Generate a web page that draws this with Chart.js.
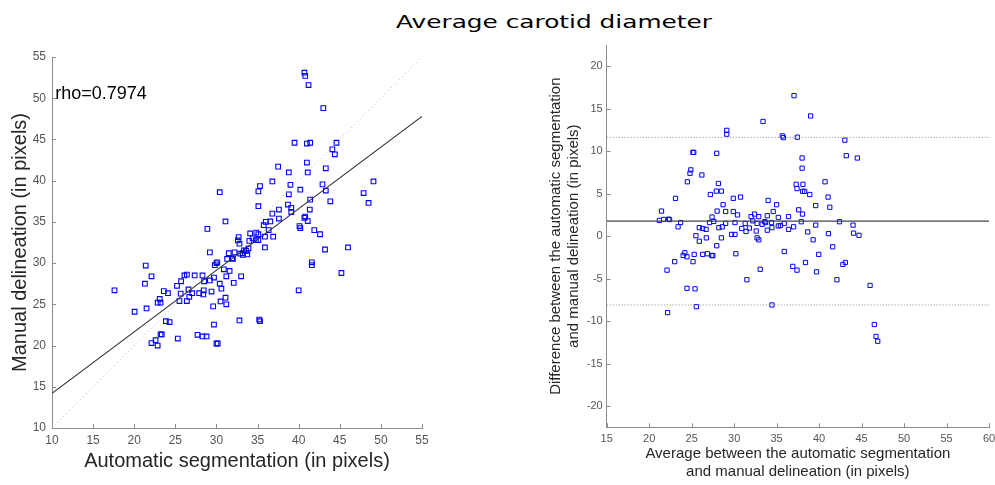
<!DOCTYPE html>
<html>
<head>
<meta charset="utf-8">
<script src="https://cdn.jsdelivr.net/npm/chart.js@4/dist/chart.umd.min.js"></script>
<style>
  html, body { margin: 0; padding: 0; background: #fff; overflow: hidden; }
  body { width: 995px; height: 485px; position: relative; }
  #title {
    position: absolute; left: 554px; top: 10px;
    font-family: "DejaVu Sans", sans-serif; font-size: 18.5px; line-height: 24px;
    color: #000; white-space: nowrap;
    transform: translateX(-50%) scaleX(1.34);
  }
  #scatter { position: absolute; left: 0; top: 0; }
  #bland { position: absolute; left: 520px; top: 0; }
</style>
</head>
<body>
<div id="title">Average carotid diameter</div>
<canvas id="scatter" width="470" height="485"></canvas>
<canvas id="bland" width="490" height="485"></canvas>
<script>
// automatic segmentation (x) vs manual delineation (y), pixels
const autoVsManual = [
  [40.7,53.1],[40.8,52.7],[41.2,51.6],[43.0,48.8],
  [39.5,44.6],[41.0,44.5],[41.4,44.6],[44.6,44.6],[44.1,43.8],[44.4,43.2],
  [41.0,42.2],[43.3,41.5],[37.5,41.7],[38.8,41.0],[41.1,41.0],
  [36.8,39.9],[49.1,39.9],[39.0,39.5],[42.9,39.55],[35.3,39.35],[35.1,38.7],[30.4,38.6],
  [40.2,38.9],[43.3,38.8],[38.8,38.35],[47.9,38.5],[48.5,37.3],[43.85,37.5],[41.4,37.7],
  [38.7,37.1],[39.1,36.7],[35.1,36.9],[41.35,36.5],[37.6,36.5],[39.1,36.2],[36.8,36.0],
  [40.8,35.65],[40.7,35.5],[37.6,35.4],[41.1,35.1],[31.1,35.05],[36.55,35.05],[36.0,35.0],
  [35.75,34.6],[40.1,34.5],[40.2,34.25],[28.9,34.15],[36.35,34.0],[41.9,34.0],[34.85,33.7],
  [34.1,33.6],[42.6,33.5],[35.1,33.5],[32.7,33.15],[32.6,32.75],[32.8,32.35],[35.9,33.2],
  [36.9,33.2],[34.4,33.0],[34.0,32.7],[34.8,32.8],[35.1,32.8],[46.0,31.9],[35.9,31.9],
  [43.2,31.65],[29.2,31.3],[33.9,31.8],[33.6,31.5],[33.2,31.2],[31.5,31.2],[32.2,31.3],
  [33.75,31.05],[33.2,31.0],[33.35,31.55],[32.9,31.15],[32.0,30.5],[31.9,30.6],[31.3,30.5],
  [30.1,30.1],[30.0,30.0],[29.8,29.75],[41.6,30.1],[41.6,29.75],[45.2,28.8],[31.6,29.05],
  [30.9,29.25],[21.4,29.7],
  [22.1,28.4],[21.3,27.5],[26.1,28.5],[26.4,28.6],[27.35,28.5],[28.3,28.5],[29.7,28.25],
  [31.2,28.4],[33.0,28.4],[25.2,27.25],[25.7,27.8],[28.5,27.8],[29.2,27.9],[30.4,27.5],
  [32.1,27.6],[23.6,26.6],[24.1,26.35],[17.6,26.7],[26.6,26.8],[25.65,26.3],[27.05,26.35],
  [27.9,26.35],[28.45,26.7],[28.4,26.2],[29.4,26.55],[30.6,26.9],[26.7,25.9],[20.05,24.1],
  [23.1,25.65],[22.85,25.2],[23.2,25.2],[25.5,25.4],[26.4,25.4],[30.5,25.35],[31.1,25.8],
  [31.2,25.0],[29.6,24.75],[21.5,24.5],[23.85,22.95],[24.3,22.85],[29.7,22.55],[32.8,23.05],
  [35.2,23.15],[35.3,22.95],[40.0,26.7],[22.6,20.65],[22.1,20.3],[22.85,20.0],[23.2,21.35],
  [23.35,21.35],[25.3,20.85],[27.7,21.3],[28.3,21.1],[28.8,21.1],[30.0,20.25],[30.15,20.25]
];
const scatterTicks = [10, 15, 20, 25, 30, 35, 40, 45, 50, 55];

// least-squares fit and identity line end points
const fitX = [10, 55];
const fitY = [14.2, 47.8];
const identity = [10, 55];
const rhoText = 'rho=0.7974';

// Bland-Altman: average (x) vs difference (y)
const avgVsDiff = [
  [37.05,16.54],[33.4,13.5],[39.0,14.15],[29.13,12.45],[29.13,12.0],[35.67,11.8],[35.8,11.6],
  [37.44,11.65],[43.03,11.3],[25.15,9.86],[25.25,9.86],[27.95,9.75],[38.0,9.2],[43.2,9.47],
  [44.5,9.2],[24.9,7.8],[24.8,7.4],[38.0,8.0],[26.2,7.2],[24.5,6.4],[28.15,6.2],[37.3,6.1],
  [37.4,5.6],[38.1,6.1],[40.7,6.4],[27.9,5.3],[28.5,5.3],[38.07,5.27],[38.3,5.27],[27.2,4.9],
  [38.9,4.9],[23.1,4.45],[29.9,4.45],[30.75,4.6],[41.06,4.6],[34.0,4.2],[28.7,3.7],[35.0,3.7],
  [39.6,3.6],[41.26,3.4],[21.45,2.95],[28.0,2.95],[29.0,2.9],[29.9,2.9],[30.4,2.5],[34.6,2.9],
  [37.6,3.1],[38.05,2.6],[32.4,2.6],[32.0,2.3],[32.9,2.3],[27.4,2.25],[33.9,2.4],[35.2,2.2],
  [36.4,2.3],[21.2,1.85],[21.7,1.97],[22.3,2.0],[22.4,1.95],[27.6,1.73],[32.2,1.8],[33.6,1.7],
  [33.7,1.6],[37.9,1.7],[42.4,1.7],[23.7,1.6],[27.1,1.6],[29.0,1.5],[30.1,1.6],[31.3,1.5],
  [32.7,1.5],[33.3,1.4],[34.4,1.6],[35.9,1.5],[35.2,1.2],[35.45,1.25],[37.0,1.1],[39.6,1.3],
  [44.0,1.3],[23.4,1.1],[25.9,1.0],[26.3,0.9],[26.7,0.8],[28.2,1.0],[28.6,1.1],[30.9,0.9],
  [31.8,0.95],[31.4,0.55],[32.6,0.6],[34.45,1.0],[33.9,0.7],[36.4,0.8],[38.66,0.5],[41.1,0.3],
  [44.06,0.35],[44.7,0.1],[25.5,0.05],[29.7,0.2],[30.1,0.2],
  [26.73,-0.2],[25.9,-0.6],[28.5,-0.2],[32.7,-0.2],[32.9,-0.43],[27.95,-1.13],[39.3,-0.43],
  [41.6,-1.25],[35.9,-1.8],[39.96,-2.15],[24.2,-1.96],[24.0,-2.27],[24.45,-2.43],[25.3,-2.15],
  [26.3,-2.15],[26.85,-2.07],[27.36,-2.27],[27.5,-2.3],[30.2,-2.07],[23.0,-3.0],[25.16,-3.0],
  [22.1,-4.0],[36.9,-3.56],[37.4,-4.0],[38.4,-3.1],[33.07,-3.9],[39.7,-4.2],[42.8,-3.33],
  [43.1,-3.1],[31.5,-5.13],[42.1,-5.13],[46.0,-5.8],[24.45,-6.14],[25.4,-6.2],[25.55,-8.3],
  [34.45,-8.1],[22.17,-9.0],[46.5,-10.4],[46.7,-11.8],[46.9,-12.37]
];
const meanDiff = 1.77;
const upperLoA = 11.63;
const lowerLoA = -8.1;
const baTicksX = [15, 20, 25, 30, 35, 40, 45, 50, 55, 60];
const baTicksY = [-20, -15, -10, -5, 0, 5, 10, 15, 20];

const toPts = arr => arr.map(p => ({x: p[0], y: p[1]}));
const fixedTicks = vals => function (s) { s.ticks = vals.map(v => ({value: v})); };

// matlab style ticks pointing into the plot
const innerTicks = {
  id: 'innerTicks',
  afterDatasetsDraw(chart, args, opts) {
    const {ctx, chartArea: a, scales} = chart;
    ctx.save();
    ctx.strokeStyle = opts.color;
    ctx.lineWidth = 1;
    ctx.beginPath();
    scales.x.ticks.forEach(t => {
      const px = Math.round(scales.x.getPixelForValue(t.value)) + 0.5;
      ctx.moveTo(px, a.bottom);
      ctx.lineTo(px, a.bottom - opts.len);
    });
    scales.y.ticks.forEach(t => {
      const py = Math.round(scales.y.getPixelForValue(t.value)) + 0.5;
      ctx.moveTo(a.left, py);
      ctx.lineTo(a.left + opts.len, py);
    });
    ctx.stroke();
    ctx.restore();
  }
};

// correlation coefficient written inside the plot
const noteText = {
  id: 'noteText',
  afterDraw(chart, args, opts) {
    if (!opts.text) return;
    const {ctx, scales} = chart;
    ctx.save();
    ctx.font = opts.font;
    ctx.fillStyle = '#000';
    ctx.textBaseline = 'middle';
    ctx.fillText(opts.text, scales.x.getPixelForValue(opts.x), scales.y.getPixelForValue(opts.y));
    ctx.restore();
  }
};

const sans = '"Liberation Sans", Arial, sans-serif';

new Chart(document.getElementById('scatter'), {
  type: 'scatter',
  data: {
    datasets: [{
      type: 'line',
      data: [{x: identity[0], y: identity[0]}, {x: identity[1], y: identity[1]}],
      borderColor: '#b4b4b4',
      borderWidth: 1,
      borderDash: [1, 3],
      pointRadius: 0
    }, {
      type: 'line',
      data: [{x: fitX[0], y: fitY[0]}, {x: fitX[1], y: fitY[1]}],
      borderColor: '#2a2a2a',
      borderWidth: 1.1,
      pointRadius: 0
    }, {
      data: toPts(autoVsManual),
      pointStyle: 'rect',
      pointRadius: 3.3,
      borderColor: '#0000ff',
      borderWidth: 1.1,
      backgroundColor: 'rgba(0,0,0,0)'
    }]
  },
  options: {
    responsive: false,
    animation: false,
    layout: {padding: {left: 0, top: 57, right: 48, bottom: 0}},
    plugins: {
      legend: {display: false},
      tooltip: {enabled: false},
      innerTicks: {color: '#8c8c8c', len: 4},
      noteText: {text: rhoText, x: 10.4, y: 50.55, font: '18px ' + sans}
    },
    scales: {
      x: {
        type: 'linear', min: 10, max: 55,
        afterBuildTicks: fixedTicks(scatterTicks),
        ticks: {color: '#555', padding: 5, font: {family: sans, size: 12}},
        grid: {display: false, drawTicks: false},
        border: {color: '#8c8c8c', width: 1},
        title: {display: true, text: 'Automatic segmentation (in pixels)', color: '#262626',
                font: {family: sans, size: 20}, padding: {top: 0, bottom: 12}},
        afterFit(s) { s.height = 57; }
      },
      y: {
        type: 'linear', min: 10, max: 55,
        afterBuildTicks: fixedTicks(scatterTicks),
        ticks: {color: '#555', padding: 6, font: {family: sans, size: 12}},
        grid: {display: false, drawTicks: false},
        border: {color: '#8c8c8c', width: 1},
        title: {display: true, text: 'Manual delineation (in pixels)', color: '#262626',
                font: {family: sans, size: 20}, padding: {top: 8, bottom: 0}},
        afterFit(s) { s.width = 52; }
      }
    }
  },
  plugins: [innerTicks, noteText]
});

const hLine = (y, color, dash, width) => ({
  type: 'line',
  data: [{x: baTicksX[0], y: y}, {x: baTicksX[baTicksX.length - 1], y: y}],
  borderColor: color,
  borderWidth: width,
  borderDash: dash,
  pointRadius: 0
});

new Chart(document.getElementById('bland'), {
  type: 'scatter',
  data: {
    datasets: [
      hLine(upperLoA, '#8a8a8a', [1, 2], 1),
      hLine(lowerLoA, '#8a8a8a', [1, 2], 1),
      hLine(meanDiff, '#444', [], 1.3),
      {
        data: toPts(avgVsDiff),
        pointStyle: 'rect',
        pointRadius: 3,
        borderColor: '#0000ff',
        borderWidth: 1,
        backgroundColor: 'rgba(0,0,0,0)'
      }
    ]
  },
  options: {
    responsive: false,
    animation: false,
    layout: {padding: {left: 0, top: 45, right: 21, bottom: 0}},
    plugins: {
      legend: {display: false},
      tooltip: {enabled: false},
      innerTicks: {color: '#8c8c8c', len: 4}
    },
    scales: {
      x: {
        type: 'linear', min: 15, max: 60,
        afterBuildTicks: fixedTicks(baTicksX),
        ticks: {color: '#555', padding: 5, font: {family: sans, size: 11}},
        grid: {display: false, drawTicks: false},
        border: {color: '#8c8c8c', width: 1},
        title: {display: true,
                text: ['Average between the automatic segmentation', 'and manual delineation (in pixels)'],
                color: '#262626', font: {family: sans, size: 15}, padding: {top: 0, bottom: 4}},
        afterFit(s) { s.height = 57.7; }
      },
      y: {
        type: 'linear', min: -22.5, max: 22.5,
        afterBuildTicks: fixedTicks(baTicksY),
        ticks: {color: '#555', padding: 4, font: {family: sans, size: 11}},
        grid: {display: false, drawTicks: false},
        border: {color: '#8c8c8c', width: 1},
        title: {display: true,
                text: ['Difference between the automatic segmentation', 'and manual delineation (in pixels)'],
                color: '#262626', font: {family: sans, size: 15}, padding: {top: 27, bottom: 0}},
        afterFit(s) { s.width = 86.7; }
      }
    }
  },
  plugins: [innerTicks]
});
</script>
</body>
</html>
